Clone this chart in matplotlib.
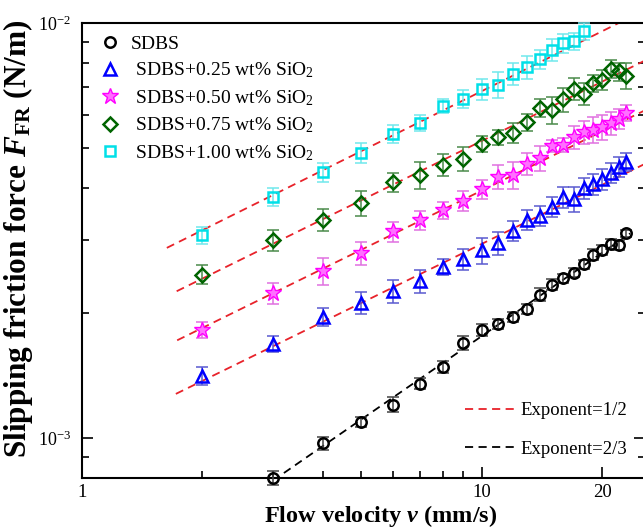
import math
import matplotlib
matplotlib.use("Agg")
import matplotlib.pyplot as plt
from matplotlib.ticker import FixedLocator, FuncFormatter, NullFormatter
from matplotlib.lines import Line2D

plt.rcParams['font.family'] = ['Liberation Serif', 'DejaVu Serif']
plt.rcParams['mathtext.fontset'] = 'custom'
plt.rcParams['mathtext.rm'] = 'Liberation Serif'
plt.rcParams['mathtext.it'] = 'Liberation Serif:italic:bold'
plt.rcParams['mathtext.bf'] = 'Liberation Serif:bold'

# ---------------- data ----------------
v_sdbs = [3, 4, 5, 6, 7, 8, 9, 10, 11, 12, 13, 14, 15, 16, 17, 18, 19, 20, 21, 22, 23]
F_sdbs = [8.01e-4, 9.72e-4, 1.093e-3, 1.201e-3, 1.351e-3, 1.479e-3, 1.694e-3, 1.816e-3,
          1.882e-3, 1.955e-3, 2.046e-3, 2.215e-3, 2.34e-3, 2.425e-3, 2.50e-3, 2.62e-3,
          2.765e-3, 2.843e-3, 2.94e-3, 2.91e-3, 3.11e-3]
e_sdbs = [3e-5, 3.5e-5, 3e-5, 5e-5, 4e-5, 5e-5, 7e-5, 6e-5, 5e-5, 5e-5, 6e-5, 8e-5,
          7e-5, 6e-5, 6e-5, 7e-5, 8e-5, 8e-5, 8e-5, 8e-5, 6e-5]

v_025 = [2, 3, 4, 5, 6, 7, 8, 9, 10, 11, 12, 13, 14, 15, 16, 17, 18, 19, 20, 21, 22, 23]
F_025 = [1.413e-3, 1.687e-3, 1.957e-3, 2.118e-3, 2.256e-3, 2.384e-3, 2.582e-3, 2.70e-3,
         2.83e-3, 2.95e-3, 3.153e-3, 3.352e-3, 3.433e-3, 3.609e-3, 3.804e-3, 3.766e-3,
         4.003e-3, 4.089e-3, 4.199e-3, 4.358e-3, 4.505e-3, 4.619e-3]
e_025 = [7e-5, 7.5e-5, 1.0e-4, 1.3e-4, 1.4e-4, 1.55e-4, 1.2e-4, 1.6e-4, 2.1e-4, 1.9e-4,
         1.7e-4, 1.8e-4, 1.9e-4, 2.0e-4, 2.2e-4, 2.6e-4, 2.3e-4, 2.4e-4, 2.4e-4, 2.4e-4,
         2.5e-4, 2.3e-4]

v_050 = [2, 3, 4, 5, 6, 7, 8, 9, 10, 11, 12, 13, 14, 15, 16, 17, 18, 19, 20, 21, 22, 23]
F_050 = [1.824e-3, 2.235e-3, 2.52e-3, 2.79e-3, 3.147e-3, 3.344e-3, 3.535e-3, 3.73e-3,
         3.98e-3, 4.263e-3, 4.30e-3, 4.58e-3, 4.724e-3, 5.05e-3, 5.09e-3, 5.305e-3,
         5.45e-3, 5.53e-3, 5.61e-3, 5.73e-3, 5.87e-3, 6.06e-3]
e_050 = [8e-5, 1.3e-4, 1.9e-4, 1.75e-4, 1.75e-4, 1.8e-4, 1.7e-4, 2.1e-4, 2.1e-4, 2.9e-4,
         3.2e-4, 2.9e-4, 3.2e-4, 1.7e-4, 1.9e-4, 3.4e-4, 3.5e-4, 3.9e-4, 4.0e-4, 3.7e-4,
         3.3e-4, 2.7e-4]

v_075 = [2, 3, 4, 5, 6, 7, 8, 9, 10, 11, 12, 13, 14, 15, 16, 17, 18, 19, 20, 21, 22, 23]
F_075 = [2.475e-3, 2.993e-3, 3.357e-3, 3.683e-3, 4.129e-3, 4.293e-3, 4.556e-3, 4.71e-3,
         5.11e-3, 5.305e-3, 5.44e-3, 5.77e-3, 6.24e-3, 6.17e-3, 6.55e-3, 6.93e-3,
         6.75e-3, 7.15e-3, 7.30e-3, 7.75e-3, 7.64e-3, 7.47e-3]
e_075 = [1.3e-4, 1.75e-4, 2.1e-4, 2.5e-4, 2.1e-4, 3.2e-4, 2.9e-4, 3.2e-4, 2.3e-4, 2.3e-4,
         3.0e-4, 2.7e-4, 3.1e-4, 4.6e-4, 4.4e-4, 4.2e-4, 4.0e-4, 3.5e-4, 4.1e-4, 3.9e-4,
         3.8e-4, 5.5e-4]

v_100 = [2, 3, 4, 5, 6, 7, 8, 9, 10, 11, 12, 13, 14, 15, 16, 17, 18]
F_100 = [3.077e-3, 3.808e-3, 4.375e-3, 4.86e-3, 5.40e-3, 5.74e-3, 6.32e-3, 6.56e-3,
         6.93e-3, 7.10e-3, 7.54e-3, 7.82e-3, 8.19e-3, 8.63e-3, 8.95e-3, 9.03e-3, 9.55e-3]
e_100 = [1.5e-4, 1.9e-4, 2.3e-4, 2.7e-4, 2.7e-4, 2.6e-4, 2.5e-4, 3.2e-4, 4.0e-4, 5.1e-4,
         4.6e-4, 5.0e-4, 4.4e-4, 5.3e-4, 4.8e-4, 4.1e-4, 4.4e-4]

# fitted guide lines (end points)
fit_v_100 = [1.63, 22.0];  fit_F_100 = [2.87e-3, 1.0e-2]
fit_v_075 = [1.725, 25.6]; fit_F_075 = [2.256e-3, 8.12e-3]
fit_v_050 = [1.73, 25.6];  fit_F_050 = [1.718e-3, 6.16e-3]
fit_v_025 = [1.717, 25.6]; fit_F_025 = [1.276e-3, 4.576e-3]
fit_v_sdbs = [3.0, 23.5];  fit_F_sdbs = [7.88e-4, 3.11e-3]

labels = ['SDBS', ' SDBS+0.25 wt% SiO$_2$', ' SDBS+0.50 wt% SiO$_2$',
          ' SDBS+0.75 wt% SiO$_2$', ' SDBS+1.00 wt% SiO$_2$']
line_labels = ['Exponent=1/2', 'Exponent=2/3']
x_ticks = [1, 10, 20]
x_ticklabels = ['1', '10', '20']

# ---------------- figure ----------------
fig = plt.figure(figsize=(6.43, 5.30), dpi=100)
ax = fig.add_axes([82/643, 52/530, 563/643, 455/530])
ax.set_xscale('log')
ax.set_yscale('log')
ax.set_xlim(1, 25.6)
ax.set_ylim(8.0e-4, 1e-2)

red = '#e8222a'
dash = (0, (4.5, 3.0))
for fv, fF in [(fit_v_100, fit_F_100), (fit_v_075, fit_F_075),
               (fit_v_050, fit_F_050), (fit_v_025, fit_F_025)]:
    ax.plot(fv, fF, color=red, lw=1.3, ls=dash, zorder=2)
ax.plot(fit_v_sdbs, fit_F_sdbs, color='black', lw=1.3, ls=dash, zorder=2)

series = [
    (v_sdbs, F_sdbs, e_sdbs, 'o', 'black', '#444444', 'none', 7.5),
    (v_025, F_025, e_025, '^', '#0000ff', '#5a5ad0', 'none', 9),
    (v_050, F_050, e_050, '*', '#ff00ff', '#e070e0', '#ff70ff', 12),
    (v_075, F_075, e_075, 'D', '#006400', '#4a8a4a', 'none', 7.5),
    (v_100, F_100, e_100, 's', '#00e0e8', '#70e8ec', 'none', 7),
]
handles = []
for (v, F, e, m, c, ec, fc, ms), lab in zip(series, labels):
    ax.errorbar(v, F, yerr=e, fmt='none', ecolor=ec, elinewidth=1.1,
                capsize=4.5, capthick=1.1, zorder=3, clip_on=False)
    h, = ax.plot(v, F, ls='none', marker=m, ms=ms, mec=c, mfc=fc,
                 mew=1.8 if m != '*' else 1.0, zorder=4, label=lab, clip_on=False)
    handles.append(h)

leg1 = ax.legend(handles=handles, loc='upper left', bbox_to_anchor=(0.005, 1.003),
                 frameon=False, fontsize=14, handlelength=1.2, handletextpad=0.45,
                 labelspacing=0.4, borderaxespad=0.3)
ax.add_artist(leg1)

lh = [Line2D([], [], color=red, lw=1.3, ls=dash),
      Line2D([], [], color='black', lw=1.3, ls=dash)]
ax.legend(lh, line_labels, loc='lower right', bbox_to_anchor=(0.999, 0.007),
          frameon=False, fontsize=13.5, handlelength=2.7, handletextpad=0.25,
          labelspacing=1.15)

# axes styling
for s in ax.spines.values():
    s.set_linewidth(1.5)
ax.xaxis.set_major_locator(FixedLocator(x_ticks))
ax.xaxis.set_major_formatter(FuncFormatter(
    lambda x, p: x_ticklabels[x_ticks.index(int(round(x)))] if int(round(x)) in x_ticks else ''))
ax.xaxis.set_minor_locator(FixedLocator([2, 3, 4, 5, 6, 7, 8, 9]))
ax.xaxis.set_minor_formatter(NullFormatter())
ax.yaxis.set_major_locator(FixedLocator([1e-3, 1e-2]))
ax.yaxis.set_major_formatter(FuncFormatter(
    lambda y, p: r'$\mathregular{10^{%d}}$' % round(math.log10(y))))
ax.yaxis.set_minor_locator(FixedLocator([9e-4] + [k * 1e-3 for k in range(2, 10)]))
ax.yaxis.set_minor_formatter(NullFormatter())
ax.tick_params(which='both', direction='in', width=1.2, right=True, top=False)
ax.tick_params(which='major', length=8)
ax.tick_params(which='minor', length=5)
ax.tick_params(axis='x', which='major', labelsize=13.5, pad=4)
ax.tick_params(axis='y', which='major', labelsize=13, pad=8)

ax.set_xlabel(r'Flow velocity $v$ (mm/s)', fontsize=17.5, fontweight='bold')
ax.xaxis.set_label_coords(0.53, -0.055)
ax.set_ylabel(r'Slipping friction force $F_{\mathbf{FR}}$ (N/m)', fontsize=22.5,
              fontweight='bold')
ax.yaxis.set_label_coords(-0.083, 0.525)

fig.savefig('out.png', dpi=100)
